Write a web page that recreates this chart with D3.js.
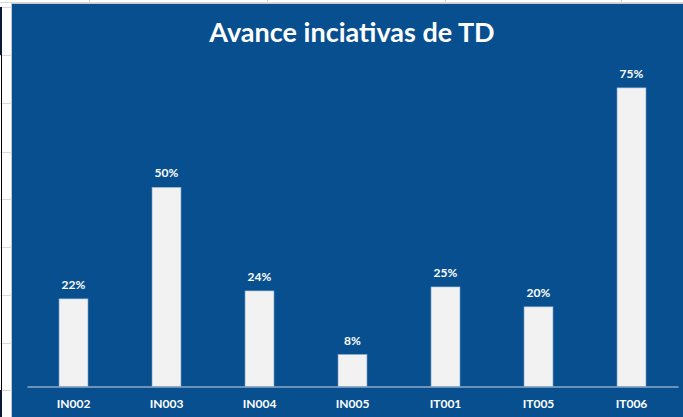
<!DOCTYPE html>
<meta charset="utf-8">
<style>
  body { margin: 0; background: #fff; }
  svg { display: block; }
</style>
<svg width="683" height="417"></svg>
<script src="https://d3js.org/d3.v7.min.js"></script>
<script>

var categories = ["IN002", "IN003", "IN004", "IN005", "IT001", "IT005", "IT006"];
var values = [0.22, 0.50, 0.24, 0.08, 0.25, 0.20, 0.75];
var titleText = "Avance inciativas de TD";

var svg = d3.select("svg"),
    width = +svg.attr("width"),
    height = +svg.attr("height");

var panelColor = "#074f8f";
var barColor = "#f2f2f2";
var textFont = "Lato, 'Open Sans', sans-serif";

// spreadsheet cells behind the chart
var sheet = svg.append("g");
[7, 55, 103, 152, 199, 247, 295, 343, 390].forEach(function(y) {
  sheet.append("line").attr("x1", 0).attr("x2", 11).attr("y1", y + 0.5).attr("y2", y + 0.5)
    .attr("stroke", "#d9d9d9");
});
[89, 267, 445, 621].forEach(function(x) {
  sheet.append("line").attr("x1", x + 0.5).attr("x2", x + 0.5).attr("y1", 0).attr("y2", 3)
    .attr("stroke", "#d9d9d9");
});
sheet.append("line").attr("x1", 0).attr("x2", width).attr("y1", 2.5).attr("y2", 2.5)
  .attr("stroke", "#d9d9d9");
sheet.append("line").attr("x1", 1.5).attr("x2", 1.5).attr("y1", 7).attr("y2", 417)
  .attr("stroke", "#000");
sheet.append("rect").attr("x", 0).attr("y", 7).attr("width", 2).attr("height", 48)
  .attr("fill", "#0b1a33");
sheet.append("rect").attr("x", 0).attr("y", 390).attr("width", 2).attr("height", 27)
  .attr("fill", "#0b1a33");

// chart panel
svg.append("rect")
    .attr("x", 11.5).attr("y", 3.5)
    .attr("width", width).attr("height", height)
    .attr("fill", panelColor)
    .attr("stroke", "#c8c8c8");

var x = d3.scaleBand()
    .domain(categories)
    .range([27, 678])
    .paddingInner(0.69)
    .paddingOuter(0.345);

var y = d3.scaleLinear()
    .domain([0, 0.8])
    .range([386.5, 68]);

svg.append("text")
    .attr("x", 352)
    .attr("y", 42)
    .attr("text-anchor", "middle")
    .attr("fill", "#fff")
    .style("font-family", textFont)
    .style("font-weight", "bold")
    .style("font-size", "27px")
    .text(titleText);

var data = categories.map(function(c, i) { return { cat: c, v: values[i] }; });

svg.append("g")
    .selectAll("rect")
    .data(data)
    .enter().append("rect")
    .attr("x", function(d) { return x(d.cat); })
    .attr("y", function(d) { return y(d.v); })
    .attr("width", x.bandwidth())
    .attr("height", function(d) { return y(0) - y(d.v); })
    .attr("fill", barColor)
    .attr("stroke", "#a9c0d8")
    .attr("stroke-width", 0.6);

svg.append("g")
    .selectAll("text")
    .data(data)
    .enter().append("text")
    .attr("x", function(d) { return x(d.cat) + x.bandwidth() / 2; })
    .attr("y", function(d) { return y(d.v) - 10; })
    .attr("text-anchor", "middle")
    .attr("fill", "#fff")
    .style("font-family", textFont)
    .style("font-weight", "bold")
    .style("font-size", "12px")
    .text(function(d) { return d3.format(".0%")(d.v); });

// category axis
var axis = svg.append("g")
    .attr("transform", "translate(0," + y(0) + ")")
    .call(d3.axisBottom(x).tickSize(0).tickPadding(13));
axis.select(".domain").attr("stroke", "#8fa9c4").attr("stroke-width", 1.5);
axis.selectAll("text")
    .attr("fill", "#fff")
    .style("font-family", textFont)
    .style("font-weight", "bold")
    .style("font-size", "12px");

</script>
